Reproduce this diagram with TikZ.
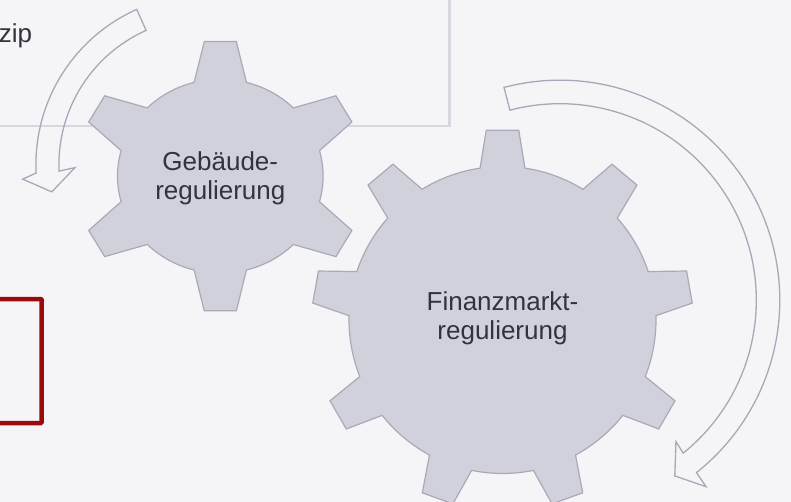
\documentclass[tikz,border=0pt]{standalone}
\usepackage{fontspec}
\setmainfont{Liberation Sans}
\definecolor{bgc}{HTML}{F5F5F8}
\definecolor{gearfill}{HTML}{D1D1DB}
\definecolor{gearline}{HTML}{A9A9BA}
\definecolor{arrowline}{HTML}{A8A8BA}
\definecolor{rectline}{HTML}{D7D7DF}
\definecolor{redline}{HTML}{9A0A0A}
\definecolor{txt}{HTML}{33333D}
\tikzset{
  gearshape/.style={fill=gearfill, draw=gearline, line width=1.2pt, line join=miter},
  arrowshape/.style={draw=arrowline, line width=1.3pt, line join=miter},
  label/.style={text=txt, font=\fontsize{26}{29}\selectfont, align=center, inner sep=0pt}
}
\begin{document}
\begin{tikzpicture}[x=1pt,y=-1pt]
\useasboundingbox (0,0) rectangle (791,502);
\fill[bgc] (0,0) rectangle (791,502);
% gray frame at top
\draw[rectline, line width=2.2pt] (-10,-10) rectangle (449.5,126);
% red frame at left
\draw[redline, line width=4.5pt, rounded corners=1pt] (-10,299) rectangle (41.7,423);
% cut text
\node[label, anchor=base east] (zip) at (32.3,42.7) {zip};
% small gear
\begin{scope}[shift={(220.3,176.2)}, xscale=1.06]
\draw[gearshape] (90-14.75:97)
  \foreach \a in {90,150,...,390} {
    -- (\a-14.75:97) -- (\a-6.4:135.5) -- (\a+6.4:135.5) -- (\a+14.75:97)
    arc[start angle=\a+14.75, end angle=\a+60-14.75, radius=97]
  } -- cycle;
\end{scope}
% big gear
\begin{scope}[shift={(502.5,320)}]
\draw[gearshape] (-90-8.4:153.5)
  \foreach \a in {-90,-50,...,230} {
    -- (\a-8.4:153.5) -- (\a-4.9:190.5) -- (\a+4.9:190.5) -- (\a+8.4:153.5)
    arc[start angle=\a+8.4, end angle=\a+40-8.4, radius=153.5]
  } -- cycle;
\end{scope}
\node[label] (geb) at (220.3,178.4) {Gebäude-\\regulierung};
\node[label] (fin) at (502.5,318.5) {Finanzmarkt-\\regulierung};
% left curved arrow
\begin{scope}[shift={(205.9,164.7)}]
\draw[arrowshape] (-114:170) arc[start angle=-114, end angle=-182.8, radius=170]
  -- (-184.5:183.8) -- (-190:156.5) -- (-181.3:131) -- (-182.5:147)
  arc[start angle=-182.5, end angle=-114, radius=147] -- cycle;
\end{scope}
% right curved arrow
\begin{scope}[shift={(559.8,300.2)}]
\draw[arrowshape] (-104.7:220) arc[start angle=-104.7, end angle=51.6, radius=220]
  -- (51.9:237) -- (56.8:210) -- (50.6:183) -- (51.1:196.5)
  arc[start angle=51.1, end angle=-104.7, radius=196.5] -- cycle;
\end{scope}
\end{tikzpicture}
\end{document}
